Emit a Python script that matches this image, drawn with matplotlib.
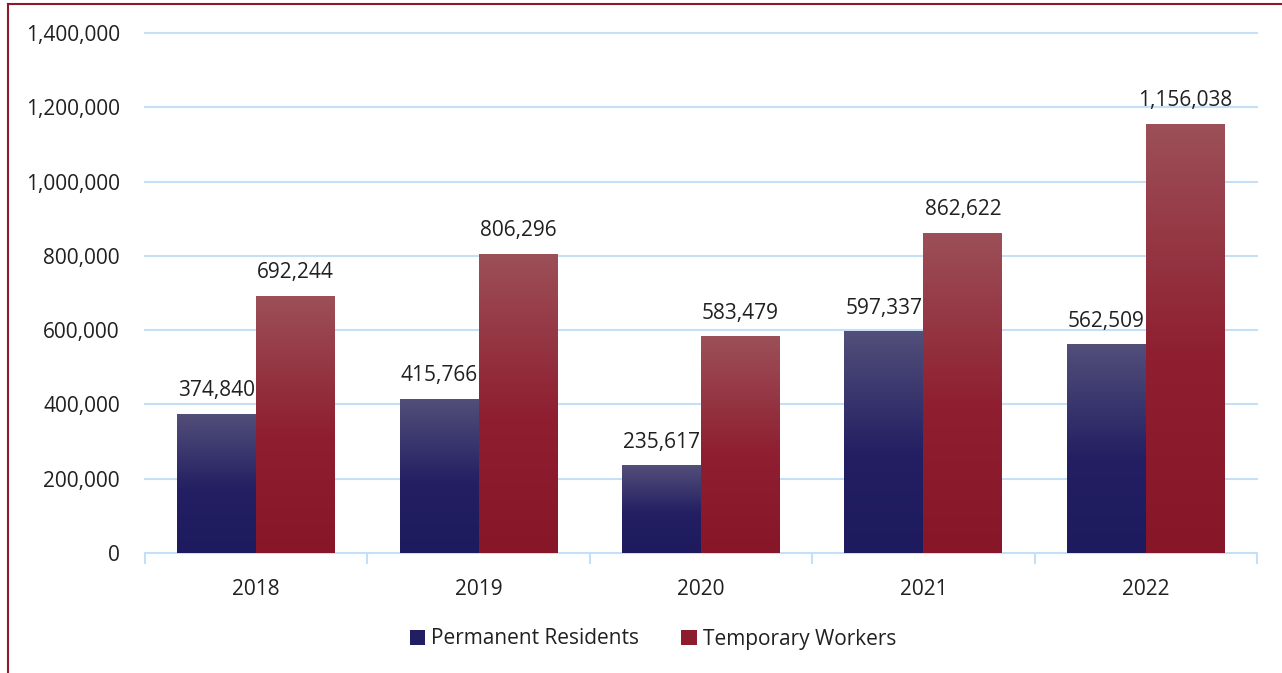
import numpy as np
import matplotlib.pyplot as plt
from matplotlib.colors import LinearSegmentedColormap
from matplotlib.patches import Patch
from matplotlib.ticker import FuncFormatter, MultipleLocator
from matplotlib.lines import Line2D

years = ["2018", "2019", "2020", "2021", "2022"]
permanent = [374840, 415766, 235617, 597337, 562509]
temporary = [692244, 806296, 583479, 862622, 1156038]

plt.rcParams["font.family"] = ["Open Sans", "DejaVu Sans"]
TXT = "#202020"
GRID = "#C5E0F6"
FS = 15

blue_cmap = LinearSegmentedColormap.from_list(
    "pr", [(0.0, "#1E1A5E"), (0.45, "#231F62"), (1.0, "#524F7A")])
red_cmap = LinearSegmentedColormap.from_list(
    "tw", [(0.0, "#861628"), (0.45, "#8E1E30"), (1.0, "#9C5058")])

fig = plt.figure(figsize=(12.82, 6.73), dpi=100)
ax = fig.add_axes([145 / 1282, 120 / 673, 1112 / 1282, 520 / 673])

# outer frame (top + left edge, as in the source)
fig.add_artist(Line2D([8 / 1282, 1], [1 - 4 / 673, 1 - 4 / 673],
                      transform=fig.transFigure, color="#8B1A2B", lw=1.5))
fig.add_artist(Line2D([8 / 1282, 8 / 1282], [0, 1 - 4 / 673],
                      transform=fig.transFigure, color="#8B1A2B", lw=1.5))

x = np.arange(len(years))
w = 0.355
bars_p = ax.bar(x - w / 2, permanent, w, color="none", zorder=3)
bars_t = ax.bar(x + w / 2, temporary, w, color="none", zorder=3)

grad = np.linspace(0, 1, 256).reshape(-1, 1)
for bars, cmap in ((bars_p, blue_cmap), (bars_t, red_cmap)):
    for b in bars:
        x0, h, bw = b.get_x(), b.get_height(), b.get_width()
        im = ax.imshow(grad, cmap=cmap, aspect="auto", origin="lower",
                       extent=[x0, x0 + bw, 0, h], zorder=3,
                       interpolation="bilinear")
        im.set_clip_path(b)

for bars, vals in ((bars_p, permanent), (bars_t, temporary)):
    for b, v in zip(bars, vals):
        ax.annotate(f"{v:,}", (b.get_x() + b.get_width() / 2, v),
                    xytext=(0, 9), textcoords="offset points",
                    ha="center", va="bottom", fontsize=FS, color=TXT)

ax.set_xlim(-0.5, len(years) - 0.5)
ax.set_ylim(0, 1400000)
ax.yaxis.set_major_locator(MultipleLocator(200000))
ax.yaxis.set_major_formatter(FuncFormatter(lambda v, p: f"{int(v):,}"))
ax.set_axisbelow(True)
for yv in range(200000, 1400001, 200000):
    ax.axhline(yv, color=GRID, lw=1.5, zorder=0, clip_on=False)

for s in ("top", "right", "left"):
    ax.spines[s].set_visible(False)
ax.spines["bottom"].set_color(GRID)
ax.spines["bottom"].set_linewidth(1.5)

ax.set_xticks(x)
ax.set_xticklabels(years)
ax.set_xticks(np.arange(-0.5, len(years)), minor=True)
ax.tick_params(axis="x", which="major", length=0, pad=19, labelsize=FS, labelcolor=TXT)
ax.tick_params(axis="x", which="minor", length=8, color=GRID, width=1.5)
ax.tick_params(axis="y", length=0, pad=18, labelsize=FS, labelcolor=TXT)

handles = [Patch(facecolor="#221E62", label="Permanent Residents"),
           Patch(facecolor="#8E1C30", label="Temporary Workers")]
fig.legend(handles=handles, loc="center", bbox_to_anchor=(653 / 1282, 1 - 639 / 673),
           ncol=2, frameon=False, fontsize=FS, handlelength=0.75, handleheight=0.75,
           handletextpad=0.3, columnspacing=2.0, labelcolor=TXT)

fig.savefig("out.png", dpi=100)
